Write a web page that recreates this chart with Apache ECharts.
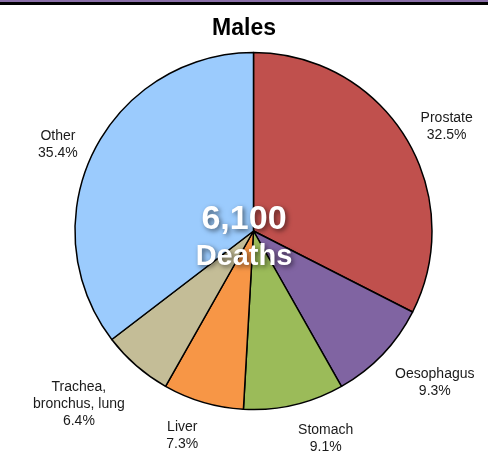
<!DOCTYPE html>
<html>
<head>
<meta charset="utf-8">
<script src="https://cdn.jsdelivr.net/npm/echarts@6/dist/echarts.min.js"></script>
<style>
  html, body { margin: 0; padding: 0; background: #fff; }
  #chart { width: 488px; height: 453px; }
</style>
</head>
<body>
<div id="chart"></div>
<script>
// 数据
const causes = ['Prostate', 'Oesophagus', 'Stomach', 'Liver', 'Trachea,\nbronchus, lung', 'Other']
const shares = [32.5, 9.3, 9.1, 7.3, 6.4, 35.4]
const sliceColors = ['#C0504D', '#8064A2', '#9BBB59', '#F79646', '#C4BD97', '#9BCBFD']
const totalDeaths = '6,100'

const cx = 253.5
const cy = 231
const radius = 178.5
const labelGap = 17.5

// 每个扇区的中间角度（从12点钟方向顺时针）
const total = shares.reduce((a, b) => a + b, 0)
let acc = 0
const midAngles = shares.map(v => {
  const mid = (acc + v / 2) / total * Math.PI * 2
  acc += v
  return mid
})

const chart = echarts.init(document.getElementById('chart'))

const centerText = (text, top, size) => ({
  type: 'text',
  left: 'center',
  top: top,
  z: 100,
  style: {
    text: text,
    fontFamily: 'Liberation Sans',
    fontSize: size,
    fontWeight: 'bold',
    fill: '#fff',
    textShadowColor: 'rgba(0,0,0,0.55)',
    textShadowBlur: 5,
    textShadowOffsetX: 2,
    textShadowOffsetY: 2
  }
})

const option = {
  animation: false,
  title: {
    text: 'Males',
    left: 'center',
    top: 12,
    textStyle: {
      fontFamily: 'Liberation Sans',
      fontSize: 23,
      fontWeight: 'bold',
      color: '#000'
    }
  },
  graphic: [
    { type: 'rect', shape: { x: 0, y: 0, width: 488, height: 2 }, style: { fill: '#8A6FA8' } },
    { type: 'rect', shape: { x: 0, y: 2, width: 488, height: 3 }, style: { fill: '#000' } },
    centerText(totalDeaths, 203, 34),
    centerText('Deaths', 242, 29)
  ],
  series: [
    {
      type: 'pie',
      center: [cx, cy],
      radius: radius,
      startAngle: 90,
      clockwise: true,
      avoidLabelOverlap: false,
      silent: true,
      data: causes.map((name, i) => ({
        name,
        value: shares[i],
        itemStyle: { color: sliceColors[i] }
      })),
      itemStyle: {
        borderColor: '#000',
        borderWidth: 1.5
      },
      label: {
        show: true,
        position: 'outside',
        formatter: p => p.name + '\n' + p.value.toFixed(1) + '%',
        fontFamily: 'Liberation Sans',
        fontSize: 14,
        lineHeight: 17,
        color: '#1a1a1a',
        overflow: 'none'
      },
      labelLine: { show: false },
      // 标签放在扇区外侧：水平方向贴边，靠近上下时再贴角
      labelLayout: params => {
        const a = midAngles[params.dataIndex]
        const sx = Math.sin(a)
        const sy = -Math.cos(a)
        const hw = params.labelRect.width / 2
        const hh = params.labelRect.height / 2
        const r = radius + labelGap
        const ky = Math.min(1, Math.max(0, (Math.abs(sy) - 0.5) / 0.2))
        return {
          x: cx + r * sx + hw * Math.sign(sx),
          y: cy + r * sy + hh * Math.sign(sy) * ky,
          align: 'center',
          verticalAlign: 'middle'
        }
      },
      emphasis: { disabled: true }
    }
  ]
}

chart.setOption(option)

window.addEventListener('resize', () => {
  chart.resize()
})
</script>
</body>
</html>
